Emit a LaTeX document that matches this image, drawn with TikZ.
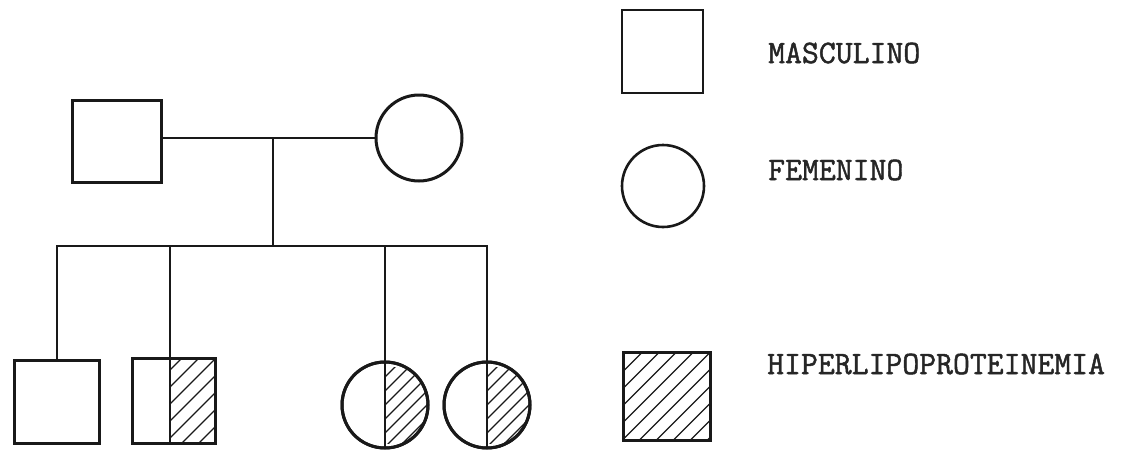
\documentclass[tikz,border=0pt]{standalone}
\usepackage{fontspec}
\newfontfamily\typew[FakeBold=1.4]{Latin Modern Mono}
\begin{document}
\begin{tikzpicture}[x=1pt,y=-1pt,
  outline/.style={draw=black!90, line width=3pt, inner sep=0pt, outer sep=0pt, fill=white},
  male/.style={outline, rectangle},
  female/.style={outline, circle},
  link/.style={draw=black!90, line width=2.6pt},
  hatch/.style={draw=black!90, line width=1.3pt},
  label/.style={anchor=west, inner sep=0pt, font=\typew\fontsize{32.8}{34}\selectfont, text=black!85}]
\useasboundingbox[fill=white] (0,0) rectangle (1124,450);

% parents
\node[male, minimum width=89pt, minimum height=82pt] (fa) at (116.5,141) {};
\node[female, minimum size=86pt] (mo) at (419,138) {};
\coordinate (mid) at (273,138);
\coordinate (sib) at (273,246);
\draw[link] (fa.east |- mid) -- (mo.west);
\draw[link] (mid) -- (sib);

% children
\node[male, minimum width=85pt, minimum height=83pt] (c1) at (57,401.5) {};
\node[male, minimum width=83pt, minimum height=85pt] (c2) at (173.5,400.5) {};
\node[female, minimum size=86pt] (c3) at (385,405) {};
\node[female, minimum size=86pt] (c4) at (487,405) {};

\draw[link] (c1.north) |- (sib) -| (c4.north);
\draw[link] ([xshift=-3.5pt]c2.north) -- ([xshift=-3.5pt]c2.north |- sib);
\draw[link] (c3.north) -- (c3.north |- sib);

% hatching of c2 (right part)
\begin{scope}
  \clip ([xshift=-3.5pt]c2.north) rectangle (c2.south east);
  \foreach \k in {-8,...,8} \draw[hatch] ([xshift=\k*17pt]c2.center) ++(-120,120) -- ++(240,-240);
\end{scope}
\draw[line width=2.6pt, black!90] ([xshift=-3.5pt]c2.north) -- ([xshift=-3.5pt]c2.south);
\node[male, minimum width=83pt, minimum height=85pt, fill=none] at (c2) {};

% hatching of c3 and c4 (right halves)
\foreach \n in {c3,c4}{
  \begin{scope}
    \clip (\n.center) circle[radius=43];
    \clip ([yshift=-5pt]\n.north) rectangle ([xshift=50pt,yshift=5pt]\n.south);
    \foreach \k in {-7,...,7} \draw[hatch] ([xshift=\k*14pt]\n.center) ++(-120,120) -- ++(240,-240);
  \end{scope}
  \draw[line width=2.6pt, black!90] (\n.north) -- (\n.south);
  \node[female, minimum size=86pt, fill=none] at (\n) {};
}

% legend
\node[male, minimum width=81pt, minimum height=83pt, line width=2.6pt] (lm) at (662.5,51.5) {};
\node[female, minimum size=82pt, line width=2.6pt] (lf) at (663,186) {};
\node[male, minimum width=87pt, minimum height=88pt] (lh) at (666.5,396) {};
\begin{scope}
  \clip (lh.north west) rectangle (lh.south east);
  \foreach \k in {-8,...,8} \draw[hatch] ([xshift=\k*17pt]lh.center) ++(-120,120) -- ++(240,-240);
\end{scope}
\node[male, minimum width=87pt, minimum height=88pt, fill=none] at (lh) {};

\node[label] (tm) at (768,53) {MASCULINO};
\node[label] (tf) at (768,170) {FEMENINO};
\node[label] (th) at (767,364) {HIPERLIPOPROTEINEMIA};
\end{tikzpicture}
\end{document}
